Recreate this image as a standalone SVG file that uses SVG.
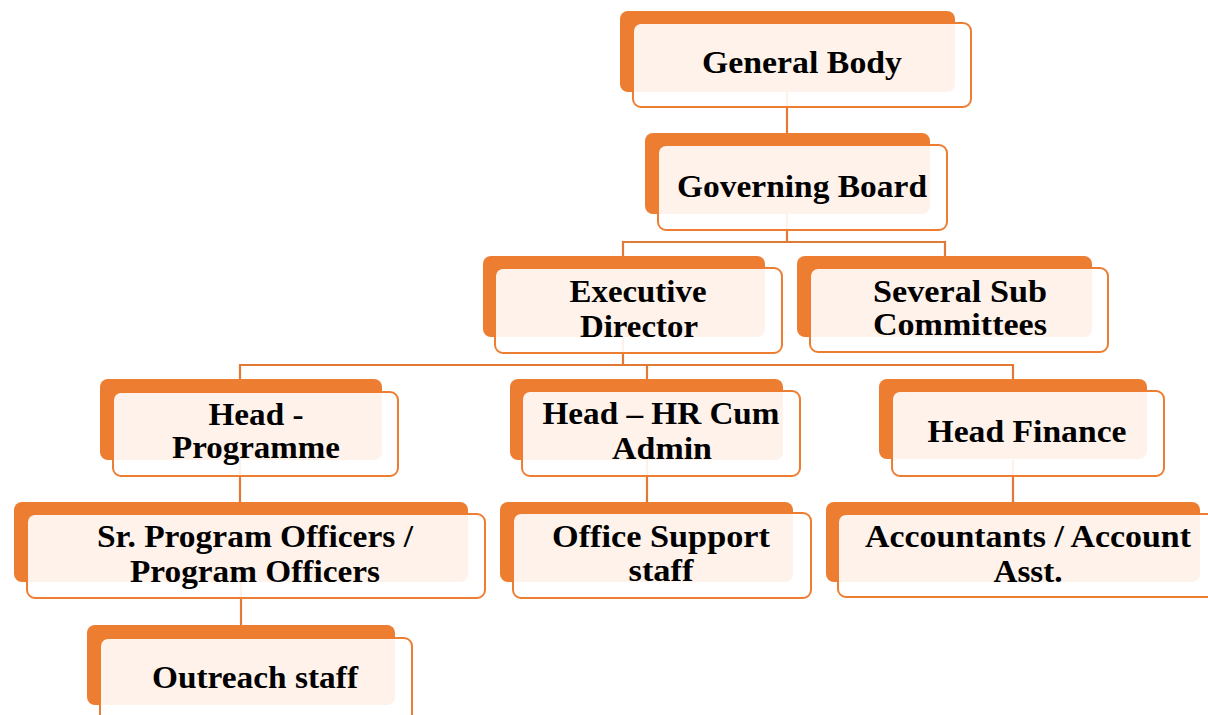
<svg xmlns="http://www.w3.org/2000/svg" width="1208" height="715" viewBox="0 0 1208 715">
<style>
.back{fill:#ED7D31;}
.front{fill:#FFFFFF;fill-opacity:0.9;stroke:#ED7D31;stroke-width:2;}
.conn{fill:none;stroke:#E07A36;stroke-width:2.2;}
text{font-family:"Liberation Serif","Times New Roman",serif;font-weight:bold;font-size:31px;fill:#000;text-anchor:middle;}
</style>
<rect width="1208" height="715" fill="#FFFFFF"/>
<g id="connectors">
<path class="conn" d="M787,92 V135"/>
<path class="conn" d="M787,214 V242 M623,242 H945 M623,241 V258 M945,241 V258"/>
<path class="conn" d="M623,337 V365 M240,365 H1013 M240,364 V381 M647,364 V381 M1013,364 V381"/>
<path class="conn" d="M240,460 V504 M647,460 V504 M1013,460 V504"/>
<path class="conn" d="M241,582 V627"/>
</g>
<g id="general-body">
<rect class="back" x="620" y="11" width="335" height="81" rx="8"/>
<rect class="front" x="633" y="23" width="338" height="84" rx="8"/>
<text x="802" y="73" textLength="200" lengthAdjust="spacingAndGlyphs">General Body</text>
</g>
<g id="governing-board">
<rect class="back" x="645" y="133" width="285" height="81" rx="8"/>
<rect class="front" x="658" y="145" width="289" height="85" rx="8"/>
<text x="802" y="197" textLength="250" lengthAdjust="spacingAndGlyphs">Governing Board</text>
</g>
<g id="executive-director">
<rect class="back" x="483" y="256" width="282" height="81" rx="8"/>
<rect class="front" x="495" y="268" width="287" height="85" rx="8"/>
<text x="638" y="302" textLength="137" lengthAdjust="spacingAndGlyphs">Executive</text>
<text x="639" y="337" textLength="118" lengthAdjust="spacingAndGlyphs">Director</text>
</g>
<g id="sub-committees">
<rect class="back" x="797" y="256" width="295" height="81" rx="8"/>
<rect class="front" x="810" y="268" width="298" height="84" rx="8"/>
<text x="960" y="302" textLength="174" lengthAdjust="spacingAndGlyphs">Several Sub</text>
<text x="960" y="335" textLength="174" lengthAdjust="spacingAndGlyphs">Committees</text>
</g>
<g id="head-programme">
<rect class="back" x="100" y="379" width="282" height="81" rx="8"/>
<rect class="front" x="113" y="392" width="285" height="84" rx="8"/>
<text x="256" y="425" textLength="95" lengthAdjust="spacingAndGlyphs">Head -</text>
<text x="256" y="458" textLength="168" lengthAdjust="spacingAndGlyphs">Programme</text>
</g>
<g id="head-hr">
<rect class="back" x="510" y="379" width="273" height="81" rx="8"/>
<rect class="front" x="522" y="391" width="278" height="85" rx="8"/>
<text x="661" y="424" textLength="237" lengthAdjust="spacingAndGlyphs">Head – HR Cum</text>
<text x="662" y="459" textLength="100" lengthAdjust="spacingAndGlyphs">Admin</text>
</g>
<g id="head-finance">
<rect class="back" x="879" y="379" width="268" height="80" rx="8"/>
<rect class="front" x="892" y="391" width="272" height="85" rx="8"/>
<text x="1027" y="442" textLength="199" lengthAdjust="spacingAndGlyphs">Head Finance</text>
</g>
<g id="program-officers">
<rect class="back" x="14" y="502" width="454" height="80" rx="8"/>
<rect class="front" x="27" y="514" width="458" height="84" rx="8"/>
<text x="255" y="547" textLength="316" lengthAdjust="spacingAndGlyphs">Sr. Program Officers /</text>
<text x="255" y="582" textLength="250" lengthAdjust="spacingAndGlyphs">Program Officers</text>
</g>
<g id="office-support">
<rect class="back" x="500" y="502" width="293" height="80" rx="8"/>
<rect class="front" x="513" y="513" width="298" height="85" rx="8"/>
<text x="661" y="547" textLength="218" lengthAdjust="spacingAndGlyphs">Office Support</text>
<text x="661" y="581" textLength="65" lengthAdjust="spacingAndGlyphs">staff</text>
</g>
<g id="accountants">
<rect class="back" x="826" y="502" width="374" height="80" rx="8"/>
<rect class="front" x="838" y="514" width="378" height="83" rx="8"/>
<text x="1028" y="547" textLength="326" lengthAdjust="spacingAndGlyphs">Accountants / Account</text>
<text x="1028" y="582" textLength="69" lengthAdjust="spacingAndGlyphs">Asst.</text>
</g>
<g id="outreach-staff">
<rect class="back" x="87" y="625" width="308" height="80" rx="8"/>
<rect class="front" x="100" y="638" width="312" height="84" rx="8"/>
<text x="255" y="688" textLength="206" lengthAdjust="spacingAndGlyphs">Outreach staff</text>
</g>
</svg>
